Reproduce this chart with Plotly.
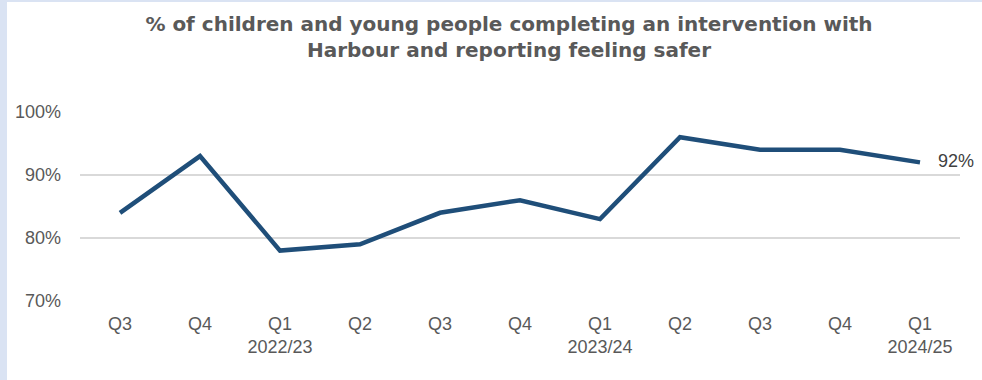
import plotly.graph_objects as go

# Quarterly results
quarters = ["Q3", "Q4", "Q1<br>2022/23", "Q2", "Q3", "Q4", "Q1<br>2023/24",
            "Q2", "Q3", "Q4", "Q1<br>2024/25"]
pct_safer = [84, 93, 78, 79, 84, 86, 83, 96, 94, 94, 92]
y_ticks = [70, 80, 90, 100]
y_tick_labels = ["70%", "80%", "90%", "100%"]

title_text = ("% of children and young people completing an intervention with<br>"
              "Harbour and reporting feeling safer")

FONT = "Liberation Sans, Arial, sans-serif"
TITLE_FONT = "DejaVu Sans, Liberation Sans, sans-serif"
GREY = "#595959"
LINE = "#1f4e79"
FRAME = "#dae3f3"

W, H = 982, 380
ML, MR, MT, MB = 80, 22, 112, 79
pw, ph = W - ML - MR, H - MT - MB

x_idx = list(range(len(quarters)))

fig = go.Figure()
fig.add_trace(go.Scatter(
    x=x_idx, y=pct_safer, mode="lines",
    line=dict(color=LINE, width=4.5), hoverinfo="skip", showlegend=False,
))

# Value label at the latest quarter
fig.add_annotation(
    x=x_idx[-1], y=pct_safer[-1], text=f"{pct_safer[-1]}%",
    showarrow=False, xanchor="left", yanchor="middle", xshift=16, yshift=1,
    font=dict(family=FONT, size=18, color="#404040"),
)

# Light blue frame along the top and left edges
fig.add_shape(type="rect", xref="paper", yref="paper",
              x0=-ML / pw, x1=(W - ML) / pw, y0=1 + (MT - 2) / ph, y1=1 + MT / ph,
              fillcolor=FRAME, line=dict(width=0), layer="below")
fig.add_shape(type="rect", xref="paper", yref="paper",
              x0=-ML / pw, x1=-(ML - 7) / pw, y0=-MB / ph, y1=1 + MT / ph,
              fillcolor=FRAME, line=dict(width=0), layer="below")

fig.update_layout(
    width=W, height=H,
    margin=dict(l=ML, r=MR, t=MT, b=MB),
    paper_bgcolor="white", plot_bgcolor="white",
    title=dict(text=title_text, x=509 / W, xanchor="center", y=1 - 31 / H, yanchor="middle",
               font=dict(family=TITLE_FONT, size=20, color=GREY, weight="bold")),
    xaxis=dict(
        tickmode="array", tickvals=x_idx, ticktext=quarters,
        range=[-0.5, len(quarters) - 0.5],
        showgrid=False, zeroline=False, showline=False, ticks="",
        ticklabelstandoff=10,
        tickfont=dict(family=FONT, size=18, color=GREY),
        fixedrange=True,
    ),
    yaxis=dict(
        range=[70, 100], tickmode="array", tickvals=y_ticks, ticktext=y_tick_labels,
        showgrid=True, gridcolor="#d9d9d9", gridwidth=1.5,
        zeroline=False, showline=False, ticks="",
        ticklabelstandoff=18,
        tickfont=dict(family=FONT, size=18, color=GREY),
        fixedrange=True,
    ),
)

fig.write_html("out.html")
